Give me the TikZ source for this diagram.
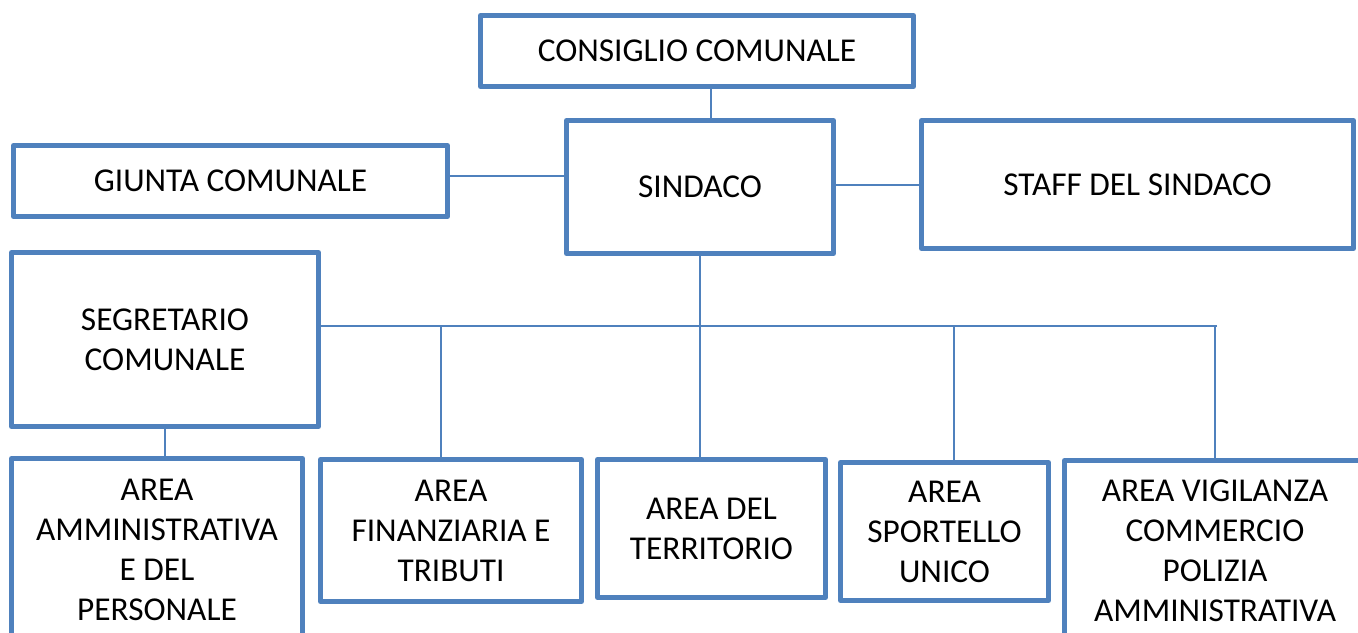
\documentclass[tikz,border=0pt]{standalone}
\usepackage{fontspec}
\setmainfont{Carlito}
\usepackage{tikz}
\definecolor{orgblue}{RGB}{79,129,189}

\begin{document}
\begin{tikzpicture}[x=0.75pt,y=0.75pt,yscale=-1,xscale=1,
  ufficio/.style={draw=orgblue,line width=3.75pt,line join=round,fill=white,align=center,inner sep=0pt,
    font=\fontsize{25}{30}\selectfont},
  misura/.style 2 args={minimum width=#1*0.75pt,minimum height=#2*0.75pt},
  filo/.style={draw=orgblue,line width=1.5pt}]
\clip (0,0) rectangle (1358,632);
\fill[white] (0,0) rectangle (1358,632);
% connectors first
\coordinate (xcons) at (711,0);
\coordinate (ygiunta) at (0,176);
\coordinate (bus) at (1217,326);
\coordinate (xfin) at (441,0);
\coordinate (xsport) at (954,0);
% boxes
\node (cons) [ufficio,misura={433}{71}] at (697,51) {CONSIGLIO COMUNALE};
\node (sind) [ufficio,misura={267}{133}] at (700,187) {SINDACO};
\node (giunta) [ufficio,misura={434}{71}] at (230.5,181) {GIUNTA COMUNALE};
\node (staff) [ufficio,misura={432}{128}] at (1137.5,184.5) {STAFF DEL SINDACO};
\node (segr) [ufficio,misura={307}{174}] at (165,339.5) {SEGRETARIO\\COMUNALE};
\node (amm) [ufficio,misura={291}{183}] at (157,550) {AREA\\AMMINISTRATIVA\\E DEL\\PERSONALE};
\node (fin) [ufficio,misura={261}{142}] at (451,530.5) {AREA\\FINANZIARIA E\\TRIBUTI};
\node (terr) [ufficio,misura={228}{138}] at (711.5,528.5) {AREA DEL\\TERRITORIO};
\node (sport) [ufficio,misura={208}{138}] at (944.5,531.5) {AREA\\SPORTELLO\\UNICO};
\node (vig) [ufficio,misura={301}{181}] at (1215,551) {AREA VIGILANZA\\COMMERCIO\\POLIZIA\\AMMINISTRATIVA};
% lines
\draw [filo] (cons.south -| xcons) -- (sind.north -| xcons);
\draw [filo] (giunta.east |- ygiunta) -- (sind.west |- ygiunta);
\draw [filo] (sind.east |- staff) -- (staff.west);
\draw [filo] (sind.south) -- (sind.south |- terr.north);
\draw [filo] (segr.east |- bus) -- (bus);
\draw [filo] (xfin |- bus) -- (xfin |- fin.north);
\draw [filo] (xsport |- bus) -- (xsport |- sport.north);
\draw [filo] (bus) -- (bus -| vig.north) -- (vig.north);
\draw [filo] (segr.south) -- (segr.south |- amm.north);
\end{tikzpicture}
\end{document}
